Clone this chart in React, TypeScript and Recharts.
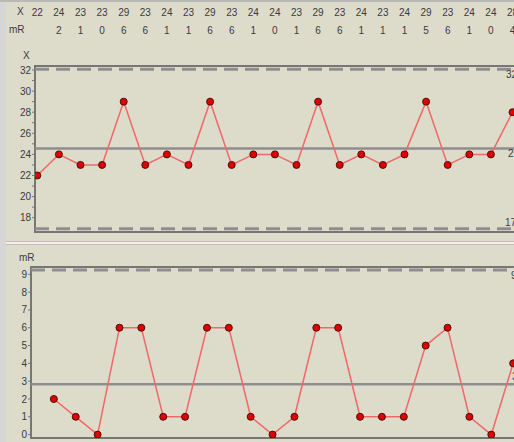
import { ComposedChart, Line, XAxis, YAxis, ReferenceLine, ReferenceArea } from "recharts";

// individuals / moving range data
const INDEX = [0, 1, 2, 3, 4, 5, 6, 7, 8, 9, 10, 11, 12, 13, 14, 15, 16, 17, 18, 19, 20, 21, 22];
const X_VALUES = [22, 24, 23, 23, 29, 23, 24, 23, 29, 23, 24, 24, 23, 29, 23, 24, 23, 24, 29, 23, 24, 24, 28];
const MR_VALUES = [null, 2, 1, 0, 6, 6, 1, 1, 6, 6, 1, 0, 1, 6, 6, 1, 1, 1, 5, 6, 1, 0, 4];

const X_TICKS = [18, 19, 20, 21, 22, 23, 24, 25, 26, 27, 28, 29, 30, 31, 32];
const MR_TICKS = [0, 1, 2, 3, 4, 5, 6, 7, 8, 9];

const X_LIMITS = { ucl: 32.06, cl: 24.55, lcl: 16.96 };
const X_LIMIT_LABELS = { ucl: "32", cl: "25", lcl: "17" };
const MR_LIMITS = { ucl: 9.24, cl: 2.83 };
const MR_LIMIT_LABELS = { ucl: "9", cl: "3" };

const BG = "#dddccb";
const TXT = "#3a3a3a";
const FONT = "'Liberation Sans', Arial, sans-serif";
const LIMIT = "#8e8e8e";
const FRAME = "#767676";
const LINE = "#f06868";

const X_DOM: [number, number] = [16.64, 32.38];
const MR_DOM: [number, number] = [-0.19, 9.41];
const TOP_X_DOM: [number, number] = [-0.106, 22.81];
const BOT_X_DOM: [number, number] = [-0.045, 22.77];

const data = INDEX.map((i) => ({ i, x: X_VALUES[i], mr: MR_VALUES[i] }));

const dotStyle = { r: 3.5, fill: "#e00000", stroke: "#4a1010", strokeWidth: 1 };
const tickStyle = { fill: TXT, fontSize: 10, fontFamily: FONT };

function edgeLabel(text: string, dy: number, fromRight: number) {
  return (props: any) => {
    const vb = props.viewBox || {};
    return (
      <text x={vb.x + vb.width - fromRight} y={vb.y + dy} fill={TXT} fontSize={10} fontFamily={FONT}>
        {text}
      </text>
    );
  };
}

function XChart() {
  return (
    <ComposedChart width={530} height={236} data={data} margin={{ top: 30, right: 0, bottom: 4, left: 8 }}>
      <XAxis
        xAxisId="mrRow"
        dataKey="i"
        type="number"
        orientation="top"
        domain={TOP_X_DOM}
        ticks={INDEX}
        interval={0}
        tickFormatter={(i) => (MR_VALUES[i] == null ? "" : String(MR_VALUES[i]))}
        axisLine={false}
        tickLine={false}
        tickSize={0}
        tickMargin={32}
        height={18}
        tick={tickStyle}
        allowDataOverflow
      />
      <XAxis
        xAxisId="xRow"
        dataKey="i"
        type="number"
        orientation="top"
        domain={TOP_X_DOM}
        ticks={INDEX}
        interval={0}
        tickFormatter={(i) => String(X_VALUES[i])}
        axisLine={false}
        tickLine={false}
        tickSize={0}
        tickMargin={32}
        height={18}
        tick={tickStyle}
        allowDataOverflow
      />
      <XAxis dataKey="i" type="number" domain={TOP_X_DOM} hide allowDataOverflow />
      <YAxis
        type="number"
        domain={X_DOM}
        ticks={X_TICKS}
        interval={0}
        tickFormatter={(v) => (v % 2 === 0 ? String(v) : "")}
        axisLine={false}
        tickLine={{ stroke: FRAME }}
        tickSize={3}
        tickMargin={1}
        width={27}
        tick={tickStyle}
        allowDataOverflow
      />
      <ReferenceArea x1={TOP_X_DOM[0]} x2={TOP_X_DOM[1]} y1={X_DOM[0]} y2={X_DOM[1]} fill="none" stroke={FRAME} strokeWidth={2} />
      <ReferenceLine y={X_LIMITS.ucl} stroke={LIMIT} strokeWidth={3} strokeDasharray="14 7" label={edgeLabel(X_LIMIT_LABELS.ucl, 9, 24)} />
      <ReferenceLine y={X_LIMITS.cl} stroke={LIMIT} strokeWidth={2.5} label={edgeLabel(X_LIMIT_LABELS.cl, 8, 22)} />
      <ReferenceLine y={X_LIMITS.lcl} stroke={LIMIT} strokeWidth={3} strokeDasharray="14 7" label={edgeLabel(X_LIMIT_LABELS.lcl, -3, 25)} />
      <Line dataKey="x" stroke={LINE} strokeWidth={1.5} dot={dotStyle} activeDot={false} isAnimationActive={false} />
    </ComposedChart>
  );
}

function MRChart() {
  return (
    <ComposedChart width={530} height={196} data={data} margin={{ top: 21, right: 0, bottom: 4, left: 8 }}>
      <XAxis dataKey="i" type="number" domain={BOT_X_DOM} hide allowDataOverflow />
      <YAxis
        type="number"
        domain={MR_DOM}
        ticks={MR_TICKS}
        interval={0}
        axisLine={false}
        tickLine={{ stroke: FRAME }}
        tickSize={3}
        tickMargin={1}
        width={23}
        tick={tickStyle}
        allowDataOverflow
      />
      <ReferenceArea x1={BOT_X_DOM[0]} x2={BOT_X_DOM[1]} y1={MR_DOM[0]} y2={MR_DOM[1]} fill="none" stroke={FRAME} strokeWidth={2} />
      <ReferenceLine y={MR_LIMITS.ucl} stroke={LIMIT} strokeWidth={3} strokeDasharray="14 7" label={edgeLabel(MR_LIMIT_LABELS.ucl, 9, 19)} />
      <ReferenceLine y={MR_LIMITS.cl} stroke={LIMIT} strokeWidth={2.5} label={edgeLabel(MR_LIMIT_LABELS.cl, -4, 18)} />
      <Line dataKey="mr" stroke={LINE} strokeWidth={1.5} dot={dotStyle} activeDot={false} isAnimationActive={false} />
    </ComposedChart>
  );
}

const smallText = { position: "absolute" as const, fontSize: 10, fontFamily: FONT, color: TXT, lineHeight: "12px" };

export default function App() {
  return (
    <div style={{ position: "absolute", left: 0, top: 0, width: 514, height: 442, overflow: "hidden", background: BG }}>
      <div style={{ position: "absolute", left: 0, top: 0, width: 6, height: 442, background: "#d6d6d4" }} />
      <div style={{ position: "absolute", left: 0, top: 0, width: 514, height: 2, background: "#b9b9b6" }} />
      <div style={{ position: "absolute", left: 0, top: 0 }}>
        <XChart />
      </div>
      <div style={{ position: "absolute", left: 6, top: 241, width: 508, height: 1, background: "#cbb8b8" }} />
      <div style={{ position: "absolute", left: 6, top: 242, width: 508, height: 2, background: "#f3eeee" }} />
      <div style={{ position: "absolute", left: 6, top: 244, width: 508, height: 1, background: "#cbb8b8" }} />
      <div style={{ position: "absolute", left: 0, top: 246 }}>
        <MRChart />
      </div>
      <span style={{ ...smallText, left: 17, top: 6 }}>X</span>
      <span style={{ ...smallText, left: 9, top: 24 }}>mR</span>
      <span style={{ ...smallText, left: 23, top: 50 }}>X</span>
      <span style={{ ...smallText, left: 19, top: 252 }}>mR</span>
    </div>
  );
}
